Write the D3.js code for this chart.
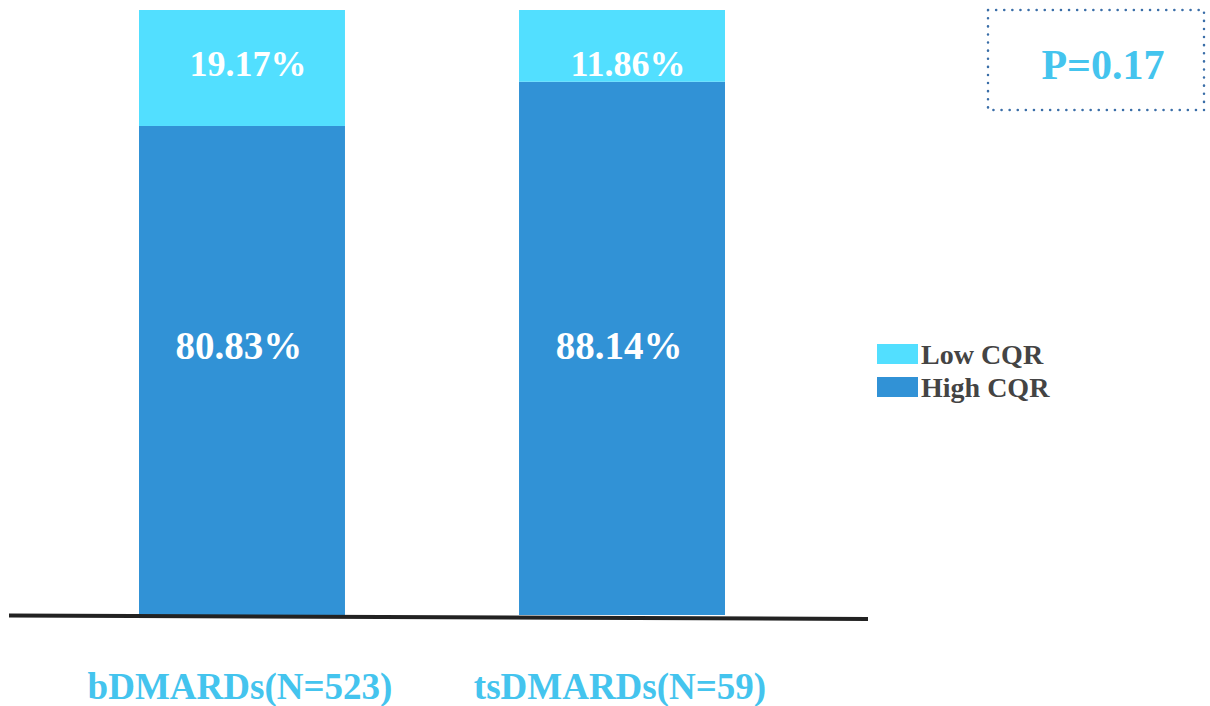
<!DOCTYPE html>
<html>
<head>
<meta charset="utf-8">
<script src="https://cdn.jsdelivr.net/npm/d3@7"></script>
<style>
  html, body { margin: 0; padding: 0; background: #fff; }
  svg { display: block; }
  text { font-family: "Liberation Serif", "DejaVu Serif", serif; font-weight: bold; }
</style>
</head>
<body>
<svg id="chart" width="1210" height="706"></svg>
<script>
const categories = ["bDMARDs(N=523)", "tsDMARDs(N=59)"];
const highCQR = [80.83, 88.14];
const lowCQR = [19.17, 11.86];
const seriesNames = ["High CQR", "Low CQR"];
const pValueLabel = "P=0.17";

const svg = d3.select("#chart");
const colors = { "High CQR": "#3192D6", "Low CQR": "#52DFFF" };
const labelBlue = "#44C4EE";

const x = d3.scaleBand().domain(categories).range([139, 725]).paddingInner(0.458).paddingOuter(0);
const y = d3.scaleLinear().domain([0, 100]).range([615, 10]);

const rows = categories.map((c, i) => ({ cat: c, "High CQR": highCQR[i], "Low CQR": lowCQR[i] }));
const stack = d3.stack().keys(seriesNames)(rows);

const g = svg.append("g");
g.selectAll("g.series").data(stack).join("g")
  .attr("class", "series")
  .attr("fill", d => colors[d.key])
  .selectAll("rect").data(d => d).join("rect")
  .attr("x", d => x(d.data.cat))
  .attr("width", x.bandwidth())
  .attr("y", d => y(d[1]))
  .attr("height", d => y(d[0]) - y(d[1]));

// value labels
const fmt = v => v.toFixed(2) + "%";
g.selectAll("text.low").data(rows).join("text")
  .attr("class", "low")
  .attr("x", d => x(d.cat) + x.bandwidth() / 2 + 6)
  .attr("y", y(100) + 66)
  .attr("text-anchor", "middle")
  .attr("fill", "#fff")
  .attr("font-size", 36)
  .text(d => fmt(d["Low CQR"]));
g.selectAll("text.high").data(rows).join("text")
  .attr("class", "high")
  .attr("x", d => x(d.cat) + x.bandwidth() / 2 - 3)
  .attr("y", y(50) + 46)
  .attr("text-anchor", "middle")
  .attr("fill", "#fff")
  .attr("font-size", 39)
  .text(d => fmt(d["High CQR"]));

// baseline
svg.append("line")
  .attr("x1", 9).attr("x2", 868)
  .attr("y1", y(0) + 0.5).attr("y2", y(0) + 4)
  .attr("stroke", "#222").attr("stroke-width", 4);

// category labels
svg.selectAll("text.cat").data(categories).join("text")
  .attr("class", "cat")
  .attr("x", d => x(d) + x.bandwidth() / 2 - 2)
  .attr("y", 699)
  .attr("text-anchor", "middle")
  .attr("fill", labelBlue)
  .attr("font-size", 37)
  .text(d => d);

// legend
const legend = svg.append("g").attr("transform", "translate(877,344)");
const legendItems = ["Low CQR", "High CQR"];
legend.selectAll("rect").data(legendItems).join("rect")
  .attr("x", 0).attr("y", (d, i) => i * 33)
  .attr("width", 41).attr("height", 20)
  .attr("fill", d => colors[d]);
legend.selectAll("text").data(legendItems).join("text")
  .attr("x", 44).attr("y", (d, i) => i * 33 + 20)
  .attr("fill", "#444")
  .attr("font-size", 28)
  .text(d => d);

// p-value box
svg.append("rect")
  .attr("x", 988).attr("y", 10).attr("width", 216).attr("height", 100)
  .attr("fill", "none")
  .attr("stroke", "#3A6EA8").attr("stroke-width", 2.5)
  .attr("stroke-linecap", "round")
  .attr("stroke-dasharray", "0.1 8");
svg.append("text")
  .attr("x", 1103).attr("y", 79)
  .attr("text-anchor", "middle")
  .attr("fill", labelBlue)
  .attr("font-size", 42)
  .text(pValueLabel);
</script>
</body>
</html>
